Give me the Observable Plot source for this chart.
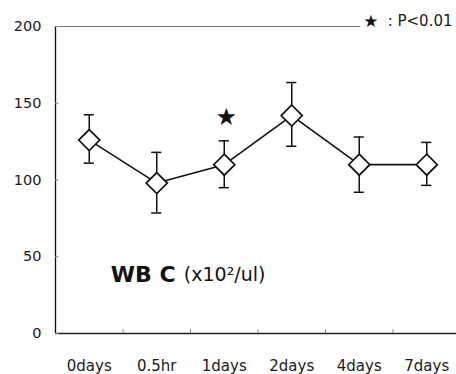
<!DOCTYPE html>
<html>
<head>
<meta charset="utf-8">
<script src="https://cdn.jsdelivr.net/npm/d3@7"></script>
<script src="https://cdn.jsdelivr.net/npm/@observablehq/plot@0.6"></script>
<style>
  html, body { margin: 0; padding: 0; background: #fff; }
  #chart svg { overflow: visible; }
</style>
</head>
<body>
<div id="chart"></div>
<script>
// WBC time course: mean with error bars at each sampling point
const categories = ["0days", "0.5hr", "1days", "2days", "4days", "7days"];
const means = [126, 98, 110, 142, 110, 110];
const upper = [142.5, 118, 125.5, 163.5, 128, 124.5];
const lower = [111, 78.5, 95, 122, 92, 96.5];
const yTicks = [0, 50, 100, 150, 200];
const significant = ["1days"];   // marked with a star (P<0.01)
const starLevel = [141];

const rows = categories.map((c, i) => ({i, c, m: means[i], hi: upper[i], lo: lower[i]}));
const stars = significant.map((c, k) => ({i: categories.indexOf(c), y: starLevel[k]}));
const boundaries = d3.range(categories.length - 1).map(i => i + 0.5);
const capHalf = 0.075;
const font = "DejaVu Sans, Verdana, sans-serif";

const chart = Plot.plot({
  width: 456,
  height: 374,
  marginLeft: 55,
  marginRight: 0,
  marginTop: 26,
  marginBottom: 41,
  style: {fontFamily: font, color: "#1a1a1a", background: "#fff"},
  x: {domain: [-0.5, categories.length - 0.5], range: [55, 460], axis: null},
  y: {domain: [0, 200], axis: null},
  marks: [
    // frame: left axis, baseline, top guide line
    Plot.ruleX([-0.5], {y1: 0, y2: 200, stroke: "#111", strokeWidth: 1.3}),
    Plot.ruleY([0], {x1: -0.5, x2: 5.5, stroke: "#222", strokeWidth: 1.3}),
    Plot.ruleY([200], {x1: -0.5, x2: 4.02, stroke: "#777", strokeWidth: 1}),
    // y ticks and labels
    Plot.ruleY(yTicks, {x1: -0.5, x2: -0.45, stroke: "#888"}),
    Plot.axisY({ticks: yTicks, tickSize: 0, tickPadding: 14, fontSize: 14.5, label: null, anchor: "left"}),
    // category boundary ticks on the baseline
    Plot.ruleX(boundaries, {y1: 0, y2: 2.5, stroke: "#888"}),
    Plot.axisX({ticks: d3.range(categories.length), tickFormat: i => categories[i], tickSize: 0, tickPadding: 27, fontSize: 15, label: null, anchor: "bottom"}),
    // error bars with caps
    Plot.ruleX(rows, {x: "i", y1: "lo", y2: "hi", stroke: "#111", strokeWidth: 1.5}),
    Plot.ruleY(rows, {y: "hi", x1: d => d.i - capHalf, x2: d => d.i + capHalf, stroke: "#111", strokeWidth: 1.5}),
    Plot.ruleY(rows, {y: "lo", x1: d => d.i - capHalf, x2: d => d.i + capHalf, stroke: "#111", strokeWidth: 1.5}),
    // mean line and diamond markers
    Plot.line(rows, {x: "i", y: "m", stroke: "#111", strokeWidth: 1.6}),
    Plot.dot(rows, {x: "i", y: "m", symbol: "diamond2", r: 9.5, fill: "#fff", stroke: "#111", strokeWidth: 1.7}),
    // significance star
    Plot.text(stars, {x: "i", y: "y", text: () => "★", fontSize: 24, fill: "#111", dx: 2}),
    // legend for the star
    Plot.text(["★"], {frameAnchor: "top-right", dx: -78, dy: -12, fontSize: 17, fill: "#111"}),
    Plot.text([": P<0.01"], {frameAnchor: "top-right", textAnchor: "end", dx: -4, dy: -11, fontSize: 15, fill: "#1a1a1a"}),
    // panel label
    Plot.text(["WB C"], {x: 0.32, y: 38, textAnchor: "start", fontSize: 22, fontWeight: "bold", fill: "#111"}),
    Plot.text(["(x10²/ul)"], {x: 0.32, y: 38, dx: 73, textAnchor: "start", fontSize: 19, fill: "#111"})
  ]
});
document.getElementById("chart").appendChild(chart);
</script>
</body>
</html>
